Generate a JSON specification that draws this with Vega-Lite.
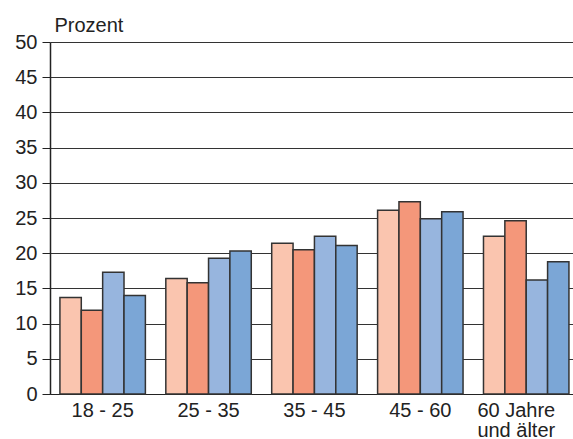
{
  "$schema": "https://vega.github.io/schema/vega-lite/v6.json",
  "width": 523,
  "height": 352,
  "autosize": "none",
  "padding": {"left": 50, "top": 42, "right": 0, "bottom": 45},
  "background": "white",
  "data": {"values": [
    {"alter": "18 - 25", "serie": "A", "prozent": 13.7},
    {"alter": "18 - 25", "serie": "B", "prozent": 11.9},
    {"alter": "18 - 25", "serie": "C", "prozent": 17.3},
    {"alter": "18 - 25", "serie": "D", "prozent": 14.0},
    {"alter": "25 - 35", "serie": "A", "prozent": 16.4},
    {"alter": "25 - 35", "serie": "B", "prozent": 15.8},
    {"alter": "25 - 35", "serie": "C", "prozent": 19.3},
    {"alter": "25 - 35", "serie": "D", "prozent": 20.3},
    {"alter": "35 - 45", "serie": "A", "prozent": 21.4},
    {"alter": "35 - 45", "serie": "B", "prozent": 20.5},
    {"alter": "35 - 45", "serie": "C", "prozent": 22.4},
    {"alter": "35 - 45", "serie": "D", "prozent": 21.1},
    {"alter": "45 - 60", "serie": "A", "prozent": 26.1},
    {"alter": "45 - 60", "serie": "B", "prozent": 27.3},
    {"alter": "45 - 60", "serie": "C", "prozent": 24.9},
    {"alter": "45 - 60", "serie": "D", "prozent": 25.9},
    {"alter": "60 Jahre und älter", "serie": "A", "prozent": 22.4},
    {"alter": "60 Jahre und älter", "serie": "B", "prozent": 24.6},
    {"alter": "60 Jahre und älter", "serie": "C", "prozent": 16.2},
    {"alter": "60 Jahre und älter", "serie": "D", "prozent": 18.8}
  ]},
  "mark": {"type": "bar", "stroke": "#333333", "strokeWidth": 1.5},
  "encoding": {
    "x": {
      "field": "alter", "type": "nominal", "sort": null, "title": null,
      "scale": {"paddingInner": 0.193, "paddingOuter": 0.066, "align": 0.71},
      "axis": {
        "labelAngle": 0,
        "labelFont": "Liberation Sans", "labelFontSize": 20, "labelColor": "#222222",
        "labelPadding": 6,
        "labelExpr": "datum.label == '60 Jahre und älter' ? ['60 Jahre', 'und älter'] : datum.label",
        "labelAlign": {"condition": {"test": "datum.label == '60 Jahre und älter'", "value": "right"}, "value": "center"},
        "labelOffset": {"condition": {"test": "datum.label == '60 Jahre und älter'", "value": 29}, "value": 0},
        "labelLineHeight": 20,
        "ticks": false,
        "domainColor": "#222222", "domainWidth": 1.2
      }
    },
    "xOffset": {"field": "serie", "type": "nominal", "scale": {"paddingInner": 0, "paddingOuter": 0}},
    "y": {
      "field": "prozent", "type": "quantitative",
      "scale": {"domain": [0, 50], "nice": false},
      "axis": {
        "values": [0, 5, 10, 15, 20, 25, 30, 35, 40, 45, 50],
        "title": "Prozent", "titleAngle": 0, "titleAlign": "left", "titleBaseline": "alphabetic",
        "titleX": 4, "titleY": -11, "titleFont": "Liberation Sans", "titleFontSize": 20,
        "titleFontWeight": "normal", "titleColor": "#222222",
        "labelFont": "Liberation Sans", "labelFontSize": 20, "labelColor": "#222222",
        "labelPadding": 5,
        "tickSize": 8, "tickColor": "#222222",
        "grid": true, "gridColor": "#333333", "gridWidth": 1.1,
        "domainColor": "#222222", "domainWidth": 1.5
      }
    },
    "color": {
      "field": "serie", "type": "nominal", "legend": null,
      "scale": {"domain": ["A", "B", "C", "D"], "range": ["#FAC5AF", "#F4977A", "#97B5DE", "#7BA6D6"]}
    }
  },
  "config": {"view": {"stroke": null}}
}
